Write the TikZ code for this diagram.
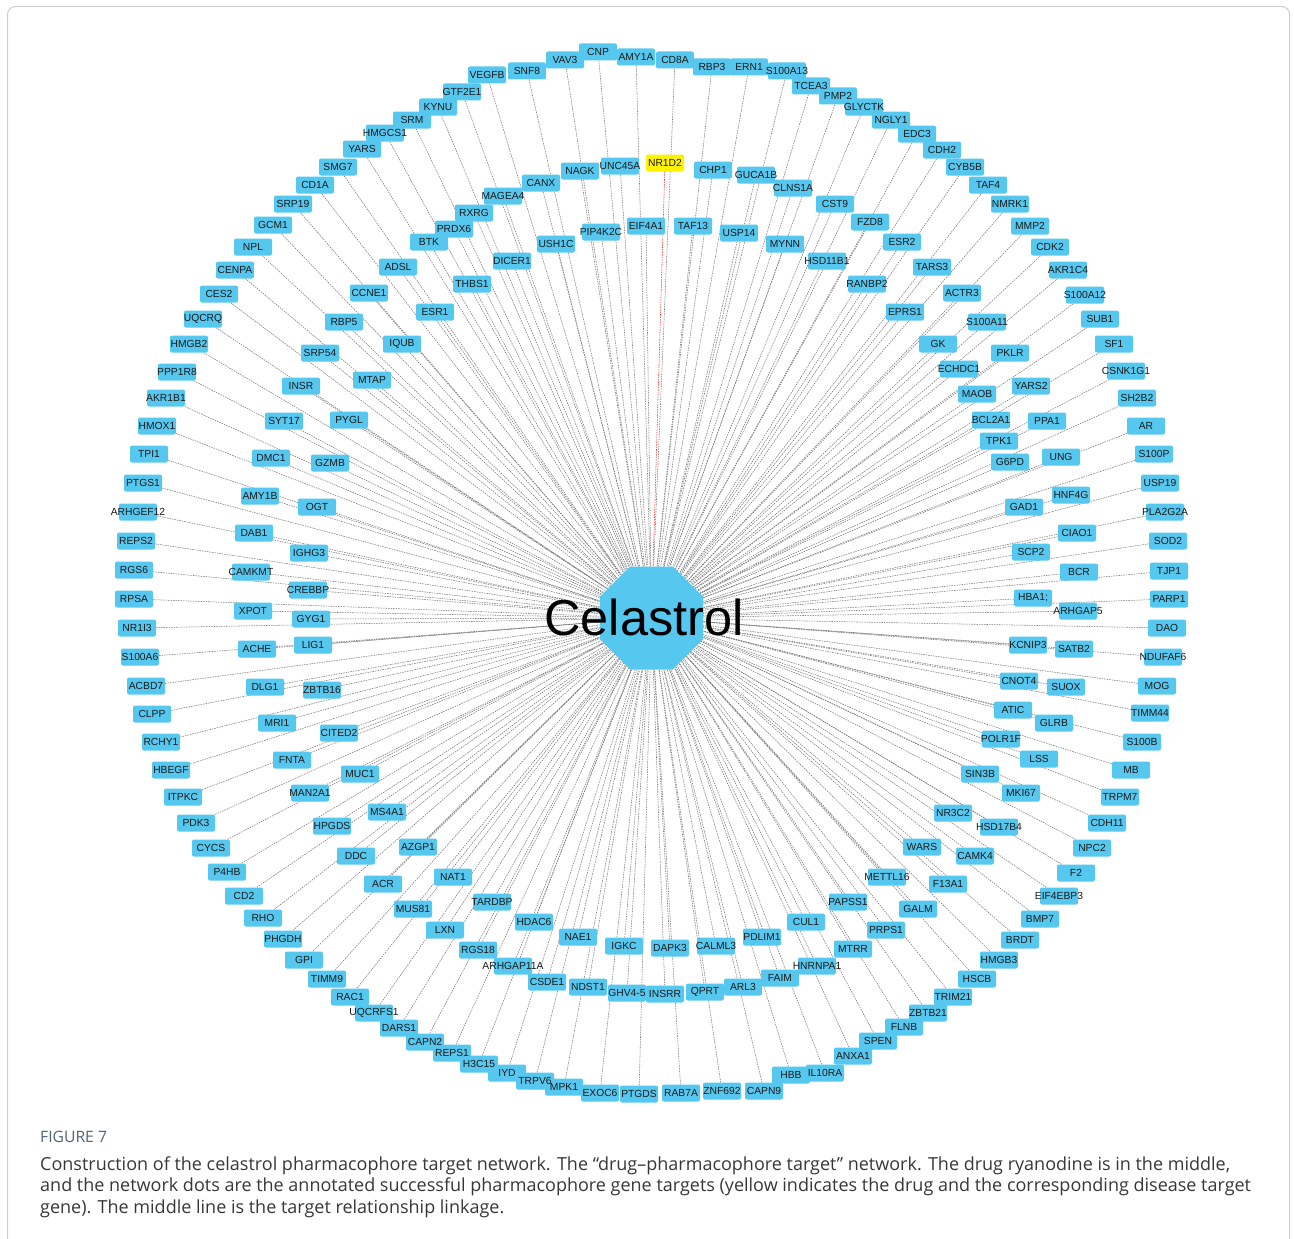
\documentclass[tikz,border=0pt]{standalone}
\usepackage{fontspec}
\setmainfont{Liberation Sans}
\newfontfamily\capfont{Open Sans}
\usetikzlibrary{shapes.geometric,backgrounds}
\pgfdeclarelayer{labels}
\pgfsetlayers{background,main,labels}
\definecolor{nodeblue}{RGB}{86,200,240}
\definecolor{edgegray}{RGB}{120,120,120}
\definecolor{figcol}{RGB}{85,100,115}
\definecolor{captxt}{RGB}{55,55,55}
\definecolor{framegray}{RGB}{205,205,205}
\begin{document}
\begin{tikzpicture}[x=1pt,y=-1pt,
  gene/.style={fill=nodeblue,rounded corners=2pt,minimum width=38pt,minimum height=17pt,inner sep=0pt},
  hit/.style={gene,fill=yellow},
  genetext/.style={inner sep=0pt,font=\fontsize{10.3}{11}\selectfont,text=black!90},
  link/.style={draw=edgegray,line width=0.55pt,dash pattern=on 1.5pt off 1pt},
  hitlink/.style={draw=red!85,line width=0.55pt,dash pattern=on 1.5pt off 1pt},
  hub/.style={regular polygon,regular polygon sides=8,fill=nodeblue,minimum size=111.5pt,inner sep=0pt},
  captext/.style={anchor=base west,inner sep=0pt,font=\capfont\fontsize{18}{21}\selectfont,text=captxt},
]
\useasboundingbox (0,0) rectangle (1294,1239);
\draw[framegray,rounded corners=8pt,line width=1pt] (7.5,6.5) rectangle (1289.5,1270);

\node[hub] (cel) at (651.5,618) {};
\node[inner sep=0pt,font=\fontsize{50.5}{55}\selectfont] (celtxt) at (644,617) {Celastrol};

\foreach \lab/\px/\py [count=\i] in {
CNP/598/52, AMY1A/636/57, CD8A/675/60, RBP3/712/67, ERN1/749/67, S100A13/787/71, TCEA3/811/86, PMP2/838/96,
GLYCTK/864/107, NGLY1/891/120, EDC3/917/134, CDH2/942/150, CYB5B/965/167, TAF4/988/185, NMRK1/1010/204,
MMP2/1030/226, CDK2/1050/247, AKR1C4/1068/270, S100A12/1085/295, SUB1/1100/319, SF1/1114/344,
CSNK1G1/1126/371, SH2B2/1137/398, AR/1146/426, S100P/1154/454, USP19/1160/483, PLA2G2A/1165/512,
SOD2/1168/541, TJP1/1169/571, PARP1/1169/599, DAO/1167/628, NDUFAF6/1163/657, MOG/1157/686,
TIMM44/1150/713, S100B/1142/742, MB/1131/770, TRPM7/1120/797, CDH11/1107/823, NPC2/1092/848,
F2/1076/873, EIF4EBP3/1059/896, BMP7/1040/919, BRDT/1020/940, HMGB3/999/960, HSCB/977/979,
TRIM21/953/997, ZBTB21/928/1013, FLNB/904/1027, SPEN/878/1041, ANXA1/853/1056, IL10RA/825/1073,
HBB/791/1075, CAPN9/764/1091, ZNF692/722/1091, RAB7A/681/1093, PTGDS/639/1094, EXOC6/600/1093,
MPK1/564/1087, TRPV6/535/1081, IYD/507/1073, H3C15/479/1064, REPS1/452/1053, CAPN2/425/1042,
DARS1/399/1028, UQCRFS1/374/1013, RAC1/350/997, TIMM9/327/979, GPI/304/960, PHGDH/283/939,
RHO/263/918, CD2/244/896, P4HB/227/872, CYCS/211/848, PDK3/196/823, ITPKC/183/797, HBEGF/171/770,
RCHY1/161/742, CLPP/152/714, ACBD7/146/686, S100A6/140/657, NR1I3/137/628, RPSA/134/599,
RGS6/134/570, REPS2/136/541, ARHGEF12/138/512, PTGS1/143/483, TPI1/149/454, HMOX1/157/426,
AKR1B1/166/398, PPP1R8/177/372, HMGB2/189/344, UQCRQ/203/319, CES2/219/294, CENPA/235/270,
NPL/253/247, GCM1/273/225, SRP19/293/204, CD1A/315/185, SMG7/338/167, YARS/362/149,
HMGCS1/385/133, SRM/412/120, KYNU/438/107, GTF2E1/462/92, VEGFB/487/75, SNF8/527/71, VAV3/565/60,
UNC45A/620/166, NAGK/580/171, CANX/541/183, MAGEA4/503/196, RXRG/474/213, PRDX6/454/229,
BTK/429/242, ADSL/398/267, CCNE1/369/293, RBP5/344/322, SRP54/320/353, INSR/301/386,
SYT17/284/421, DMC1/271/458, AMY1B/260/496, DAB1/254/533, CAMKMT/251/572, XPOT/253/611,
ACHE/257/649, DLG1/265/687, MRI1/277/723, FNTA/292/760, MAN2A1/310/793, HPGDS/332/826,
DDC/356/856, ACR/383/884, MUS81/413/909, LXN/445/930, RGS18/478/950, ARHGAP11A/513/966,
CSDE1/547/982, NDST1/588/987, GHV4-5/627/993, INSRR/665/994, QPRT/705/992, ARL3/743/987,
FAIM/780/978, HNRNPA1/817/966, MTRR/853/949, PRPS1/886/930, GALM/918/909, F13A1/948/884,
CAMK4/975/856, HSD17B4/999/827, MKI67/1021/793, LSS/1039/759, GLRB/1054/723, SUOX/1066/687,
SATB2/1074/649, ARHGAP5/1078/611, BCR/1079/572, CIAO1/1077/533, HNF4G/1071/495, UNG/1061/457,
PPA1/1047/421, YARS2/1031/386, PKLR/1010/353, S100A11/987/322, ACTR3/962/293, TARS3/932/267,
ESR2/902/242, FZD8/870/222, CST9/835/204, CLNS1A/793/188, GUCA1B/756/175, CHP1/713/170,
EIF4A1/646/226, TAF13/693/226, USP14/739/233, MYNN/785/244, HSD11B1/827/261, RANBP2/867/284,
EPRS1/905/312, GK/938/344, ECHDC1/959/369, MAOB/977/394, BCL2A1/991/420, TPK1/999/441,
G6PD/1010/462, GAD1/1024/507, SCP2/1031/552, HBA1;/1033/598, KCNIP3/1028/645, CNOT4/1019/681,
ATIC/1013/710, POLR1F/1001/739, SIN3B/980/774, NR3C2/953/813, WARS/922/847, METTL16/887/877,
PAPSS1/848/902, CUL1/806/922, PDLIM1/762/937, CALML3/716/946, DAPK3/670/948, IGKC/624/946,
NAE1/578/937, HDAC6/534/922, TARDBP/492/902, NAT1/453/877, AZGP1/418/847, MS4A1/387/812,
MUC1/360/774, CITED2/339/733, ZBTB16/322/690, LIG1/313/645, GYG1/311/619, CREBBP/308/590,
IGHG3/309/553, OGT/317/507, GZMB/330/463, PYGL/349/420, MTAP/372/380, IQUB/402/344,
ESR1/435/312, THBS1/472/284, DICER1/512/261, USH1C/556/244, PIP4K2C/601/232}
{
  \node[gene] (g\i) at (\px,\py) {};
  \begin{pgfonlayer}{labels}
    \node[genetext] (t\i) at (g\i.center) {\lab};
  \end{pgfonlayer}
  \begin{pgfonlayer}{background}
    \draw[link] (g\i) -- (cel);
  \end{pgfonlayer}
}

\node[hit] (nr1d2) at (665,163) {};
\begin{pgfonlayer}{labels}
  \node[genetext] (nr1d2t) at (nr1d2.center) {NR1D2};
\end{pgfonlayer}
\begin{pgfonlayer}{background}
  \draw[hitlink] (nr1d2) -- (cel);
\end{pgfonlayer}

\node[anchor=base west,inner sep=0pt,font=\capfont\fontsize{15.7}{18}\selectfont,text=figcol] (figlab) at (40,1142) {FIGURE 7};
\node[captext] (cap1) at (40,1170) {Construction of the celastrol pharmacophore target network. The “drug–pharmacophore target” network. The drug ryanodine is in the middle,};
\node[captext] (cap2) at (40,1191.5) {and the network dots are the annotated successful pharmacophore gene targets (yellow indicates the drug and the corresponding disease target};
\node[captext] (cap3) at (40,1213) {gene). The middle line is the target relationship linkage.};
\end{tikzpicture}
\end{document}
